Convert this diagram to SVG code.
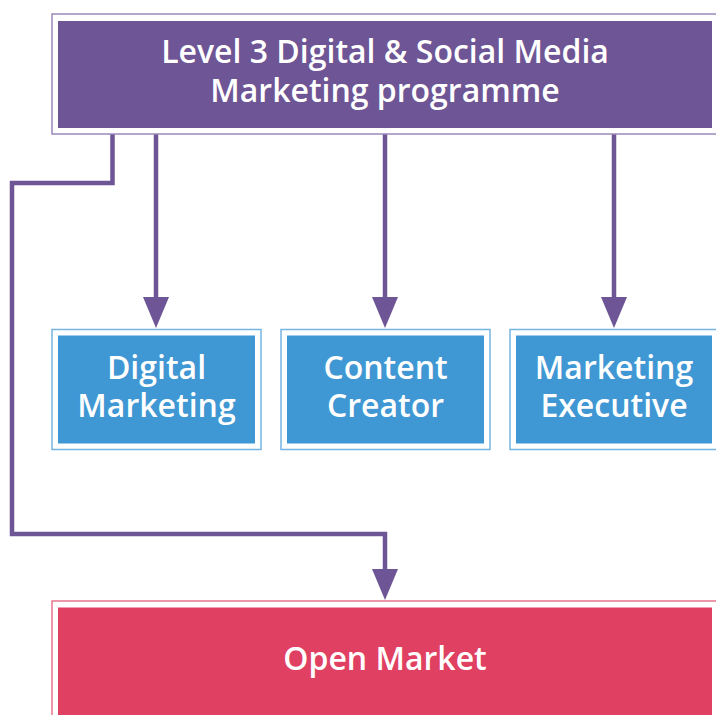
<svg xmlns="http://www.w3.org/2000/svg" width="716" height="715" viewBox="0 0 716 715">
<defs>
<marker id="ah" markerUnits="userSpaceOnUse" markerWidth="32" markerHeight="26" refX="0" refY="13" orient="auto" overflow="visible">
<path d="M0,0 L31,13 L0,26 Z" fill="#6E5595"/>
</marker>
<style>
.lbl{font-family:"Open Sans","Noto Sans","DejaVu Sans",sans-serif;font-weight:600;font-size:32px;fill:#ffffff;text-anchor:middle}
.conn{fill:none;stroke:#6E5595;stroke-width:4.5;stroke-linejoin:miter}
.pOut{fill:#ffffff;stroke:#9C88BB;stroke-width:1.5}
.pIn{fill:#6E5595}
.bOut{fill:#ffffff;stroke:#74B5E2;stroke-width:1.5}
.bIn{fill:#3F97D3}
.rOut{fill:#ffffff;stroke:#E8768E;stroke-width:1.5}
.rIn{fill:#E04062}
</style>
</defs>
<rect width="716" height="715" fill="#ffffff"/>
<g id="connectors">
<path class="conn" d="M112.5,134 V183 H12 V534 H385 V569" marker-end="url(#ah)"/>
<path class="conn" d="M156,134 V297" marker-end="url(#ah)"/>
<path class="conn" d="M385,134 V297" marker-end="url(#ah)"/>
<path class="conn" d="M614,134 V297" marker-end="url(#ah)"/>
</g>
<g id="node-programme">
<rect class="pOut" x="52" y="14" width="670" height="120"/>
<rect class="pIn" x="58" y="21" width="654" height="107"/>
<text class="lbl" x="385" y="63">Level 3 Digital &amp; Social Media</text>
<text class="lbl" x="385" y="102">Marketing programme</text>
</g>
<g id="node-digital-marketing">
<rect class="bOut" x="52" y="329.5" width="209" height="120"/>
<rect class="bIn" x="58" y="335.5" width="197" height="108"/>
<text class="lbl" x="156.5" y="379">Digital</text>
<text class="lbl" x="156.5" y="417">Marketing</text>
</g>
<g id="node-content-creator">
<rect class="bOut" x="281" y="329.5" width="209" height="120"/>
<rect class="bIn" x="287" y="335.5" width="197" height="108"/>
<text class="lbl" x="385.5" y="379">Content</text>
<text class="lbl" x="385.5" y="417">Creator</text>
</g>
<g id="node-marketing-executive">
<rect class="bOut" x="510" y="329.5" width="209" height="120"/>
<rect class="bIn" x="516" y="335.5" width="196" height="108"/>
<text class="lbl" x="614" y="379">Marketing</text>
<text class="lbl" x="614" y="417">Executive</text>
</g>
<g id="node-open-market">
<rect class="rOut" x="52" y="601" width="670" height="130"/>
<rect class="rIn" x="58" y="607.5" width="654" height="120"/>
<text class="lbl" x="385" y="670">Open Market</text>
</g>
</svg>
